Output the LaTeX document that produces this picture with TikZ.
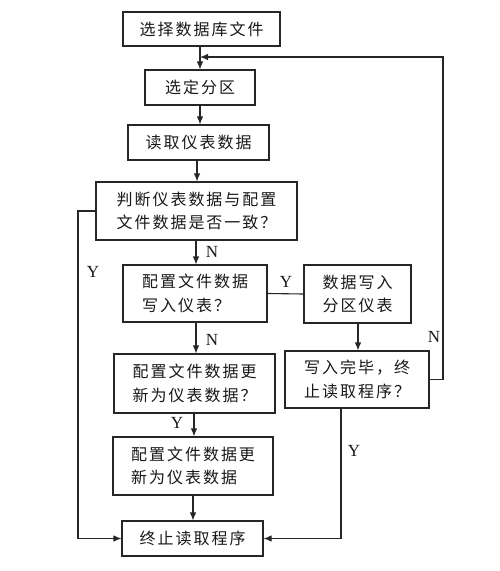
\documentclass[tikz,border=0pt]{standalone}
\usepackage{fontspec}
\setmainfont{Liberation Serif}
\newfontfamily\cjk[LetterSpace=12.5]{Noto Sans CJK SC}
\usetikzlibrary{arrows.meta}
\begin{document}
\begin{tikzpicture}[x=1pt,y=-1pt,
  ln/.style={draw=black!85,line width=1.1pt},
  box/.style={ln,rectangle,inner sep=0pt,align=left,
    font=\cjk\fontsize{16}{23.5}\selectfont,text=black!90},
  arr/.style={ln,-{Latex[length=8pt,width=6.5pt]}},
  lab/.style={font=\fontsize{17}{17}\selectfont,text=black!90,inner sep=0pt}]
\useasboundingbox[fill=white] (0,0) rectangle (500,571);
% boxes
\node[box,minimum width=157pt,minimum height=34pt] (b1) at (201.5,29) {选择数据库文件};
\node[box,minimum width=110pt,minimum height=35pt] (b2) at (200,87.5) {选定分区};
\node[box,minimum width=141pt,minimum height=35pt] (b3) at (198.5,142.5) {读取仪表数据};
\node[box,minimum width=201pt,minimum height=58pt] (b4) at (196.5,211) {判断仪表数据与配置\\文件数据是否一致？};
\node[box,minimum width=144pt,minimum height=57pt] (b5) at (195,293.5) {配置文件数据\\写入仪表？};
\node[box,minimum width=107pt,minimum height=58pt] (b6) at (357.5,294) {数据写入\\分区仪表};
\node[box,minimum width=161pt,minimum height=59pt] (b7) at (194.5,383.5) {配置文件数据更\\新为仪表数据？};
\node[box,minimum width=144pt,minimum height=57pt] (b8) at (357,379.5) {写入完毕，终\\止读取程序？};
\node[box,minimum width=160pt,minimum height=58pt] (b9) at (193,466) {配置文件数据更\\新为仪表数据};
\node[box,minimum width=141pt,minimum height=35pt] (b10) at (192.5,538.5) {终止读取程序};
% junction for loop
\coordinate (j) at (200,57);
\coordinate (rt) at (443,57);
\coordinate (lf) at (78,0);
% main arrows
\draw[arr] (b1.south -| j) -- (b2.north -| j);
\draw[arr] (b2.south) -- (b3.north -| b2.south);
\draw[arr] (b3.south -| 197,0) -- (b4.north -| 197,0);
\draw[arr] (b4.south -| 196,0) -- (b5.north -| 196,0);
\draw[ln] (b5.east) -- (b6.west);
\draw[arr] (b5.south -| 196,0) -- (b7.north -| 196,0);
\draw[arr] (b6.south -| 358,0) -- (b8.north -| 358,0);
\draw[arr] (b7.south -| 194,0) -- (b9.north -| 194,0);
\draw[arr] (b9.south) -- (b10.north -| b9.south);
% Y branch on left
\draw[arr] (b4.west) -| (lf |- b10.west) -- (b10.west);
% Y from b8 to end
\draw[arr] (b8.south -| 341,0) |- (b10.east);
% N loop back
\draw[arr] (b8.east) -| (rt) -- (j);
% labels
\node[lab] (nA) at (212,252) {N};
\node[lab] (nB) at (212,340) {N};
\node[lab] (yA) at (93,272) {Y};
\node[lab] (yB) at (286,282) {Y};
\node[lab] (yC) at (177,423) {Y};
\node[lab] (nC) at (434,337) {N};
\node[lab] (yD) at (354,451) {Y};
\end{tikzpicture}
\end{document}
